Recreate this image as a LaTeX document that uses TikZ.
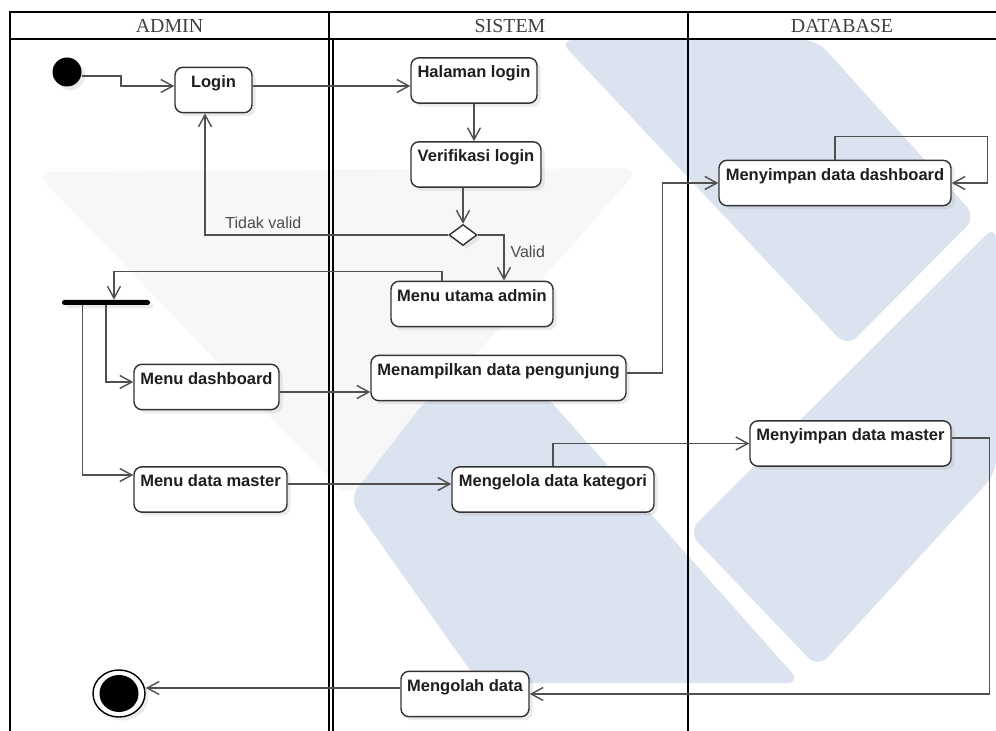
\documentclass[tikz,border=0pt]{standalone}
\usepackage{fontspec}
\setmainfont{Liberation Serif}
\setsansfont{Liberation Sans}
\usetikzlibrary{arrows.meta,positioning,shapes.geometric,shadows}
\definecolor{Mark}{HTML}{DCE3F0}
\definecolor{Haze}{HTML}{F7F7F7}
\definecolor{Wire}{HTML}{505050}
\definecolor{Edge}{HTML}{333333}
\definecolor{Ink}{HTML}{1E1E1E}

\begin{document}
\begin{tikzpicture}[
    lane/.style={draw=black, line width=1.1pt},
    head/.style={font=\fontsize{11.3}{13}\selectfont, text=black!75},
    shade/.style={drop shadow={shadow xshift=0.07cm, shadow yshift=-0.07cm, opacity=0.2, fill=black!40}},
    act/.style={draw=Edge, line width=0.8pt, rounded corners=4.5pt, fill=white, shade,
      font=\sffamily\bfseries\fontsize{9.4}{11}\selectfont, text=Ink,
      text height=9.3pt, text depth=12.5pt, inner ysep=2pt, inner xsep=2pt},
    startdot/.style={circle, fill=black, minimum size=0.58cm, inner sep=0pt, shade},
    stopring/.style={ellipse, draw=black, line width=0.8pt, fill=white, minimum width=1.04cm, minimum height=0.94cm, inner sep=0pt, shade},
    stopdot/.style={ellipse, fill=black, minimum width=0.78cm, minimum height=0.74cm, inner sep=0pt},
    forkbar/.style={rectangle, fill=black, rounded corners=1pt, minimum width=1.76cm, minimum height=0.1cm, inner sep=0pt, shade},
    decision/.style={diamond, draw=Edge, line width=0.8pt, fill=white, minimum width=0.56cm, minimum height=0.42cm, inner sep=0pt, shade},
    flow/.style={-{Straight Barb[length=2.4mm,width=2.6mm]}, draw=Wire, line width=0.8pt},
    lbl/.style={font=\sffamily\fontsize{9.1}{11}\selectfont, text=black!70}
  ]
    \useasboundingbox (0,0) rectangle (19.92,-14.62);

    \fill[Haze, rounded corners=10pt] (0.70,-3.44) -- (12.80,-3.36) -- (6.98,-9.98) -- cycle;
    \fill[Mark, rounded corners=8pt] (6.98,-9.98) -- (8.60,-7.90) -- (10.90,-7.90) -- (16.02,-13.66) -- (9.58,-13.66) -- cycle;
    \fill[Mark, rounded corners=8pt] (11.18,-0.80) -- (16.34,-0.80) -- (19.52,-4.34) -- (16.94,-6.94) -- cycle;
    \fill[Mark, rounded corners=8pt] (19.92,-4.50) -- (13.76,-10.64) -- (16.36,-13.36) -- (19.92,-9.46) -- cycle;

    \draw[lane] (0.2,-14.62) -- (0.2,-0.24) -- (19.92,-0.24);
    \draw[lane] (0.2,-0.78) -- (19.92,-0.78);
    \draw[lane] (6.58,-0.24) -- (6.58,-14.62);
    \draw[lane, line width=0.9pt] (6.66,-0.78) -- (6.66,-14.62);
    \draw[lane] (13.76,-0.24) -- (13.76,-14.62);
    \node[head] (hadmin) at (3.39,-0.52) {ADMIN};
    \node[head] (hsistem) at (10.20,-0.52) {SISTEM};
    \node[head] (hdb) at (16.84,-0.52) {DATABASE};

    \node[startdot] (start) at (1.34,-1.44) {};
    \node[act, minimum width=1.54cm] (login) at (4.27,-1.80) {Login};
    \node[act, minimum width=2.52cm] (halaman) at (9.48,-1.61) {Halaman login};
    \node[act, minimum width=2.60cm] (verif) at (9.52,-3.29) {Verifikasi login};
    \node[decision] (cek) at (9.26,-4.70) {};
    \node[act, minimum width=3.24cm] (utama) at (9.44,-6.08) {Menu utama admin};
    \node[forkbar] (fork) at (2.12,-6.05) {};
    \node[act, minimum width=2.90cm] (menudash) at (4.13,-7.74) {Menu dashboard};
    \node[act, minimum width=5.10cm] (tampil) at (9.97,-7.56) {Menampilkan data pengunjung};
    \node[act, minimum width=4.64cm] (simpandash) at (16.70,-3.66) {Menyimpan data dashboard};
    \node[act, minimum width=3.06cm] (menumaster) at (4.21,-9.79) {Menu data master};
    \node[act, minimum width=4.04cm] (kelola) at (11.06,-9.79) {Mengelola data kategori};
    \node[act, minimum width=4.02cm] (simpanmaster) at (17.01,-8.87) {Menyimpan data master};
    \node[act, minimum width=2.56cm] (olah) at (9.30,-13.88) {Mengolah data};
    \node[stopring] (stop) at (2.38,-13.87) {};
    \node[stopdot] (stopin) at (stop) {};

    \draw[flow] ([yshift=-0.08cm]start.east) -- ++(0.78,0) |- ([yshift=0.08cm]login.west);
    \draw[flow] ([yshift=0.08cm]login.east) -- ([yshift=0.08cm]login.east -| halaman.west);
    \draw[flow] (halaman.south) -- (halaman.south |- verif.north);
    \draw[flow] (verif.south -| cek.north) -- (cek.north);
    \draw[flow] (cek.west) -- node[lbl, above, pos=0.76] {Tidak valid} ([xshift=-0.17cm]cek.west -| login.south) -- ([xshift=-0.17cm]login.south);
    \draw[flow] (cek.east) -| node[lbl, right, pos=0.68] {Valid} ([xshift=0.64cm]utama.north);
    \draw[flow] ([xshift=-0.6cm]utama.north) -- ++(0,0.18) -| ([xshift=0.16cm]fork.north);
    \draw[flow] (fork.south) |- ([yshift=0.1cm]menudash.west);
    \draw[flow] ([xshift=-0.47cm]fork.south) |- ([yshift=0.29cm]menumaster.west);
    \draw[flow] ([yshift=-0.1cm]menudash.east) -- ([yshift=-0.1cm]menudash.east -| tampil.west);
    \draw[flow] ([yshift=0.1cm]tampil.east) -- ++(0.72,0) |- (simpandash.west);
    \draw[flow] (simpandash.north) -- ++(0,0.46) -| ([xshift=0.72cm]simpandash.east) -- (simpandash.east);
    \draw[flow] ([yshift=0.11cm]menumaster.east) -- ([yshift=0.11cm]menumaster.east -| kelola.west);
    \draw[flow] (kelola.north) |- (simpanmaster.west);
    \draw[flow] ([yshift=0.11cm]simpanmaster.east) -- ++(0.76,0) |- (olah.east);
    \draw[flow] ([yshift=0.12cm]olah.west) -- ([yshift=0.12cm]olah.west -| stop.east);
\end{tikzpicture}
\end{document}
